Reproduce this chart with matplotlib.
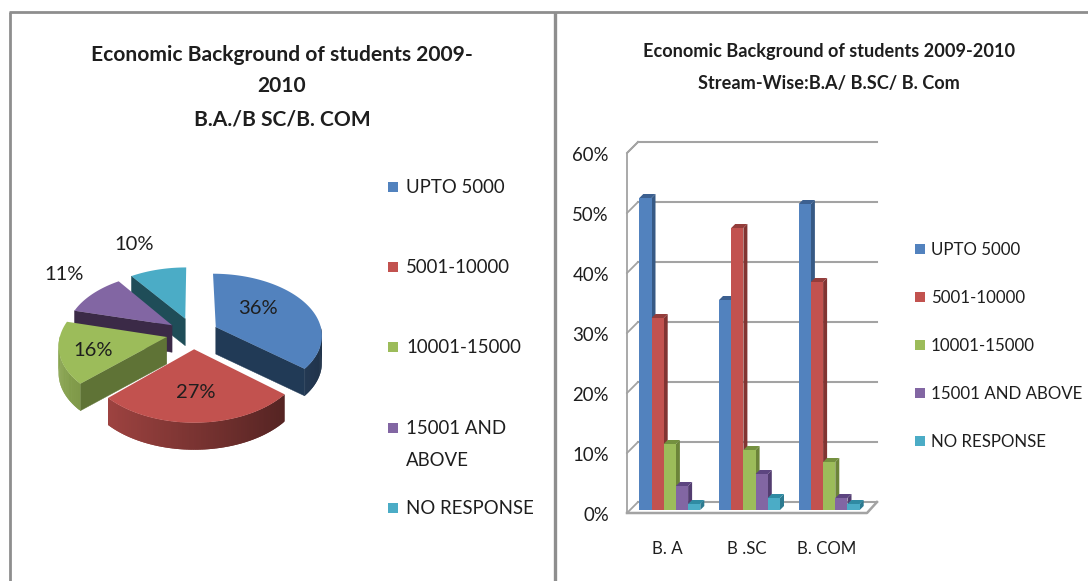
import numpy as np
import matplotlib
matplotlib.use("Agg")
import matplotlib.pyplot as plt
from matplotlib.patches import Polygon, Rectangle
from matplotlib.transforms import ScaledTranslation

# ---- data ----
legend_labels = ["UPTO 5000", "5001-10000", "10001-15000", "15001 AND\nABOVE", "NO RESPONSE"]
bar_legend_labels = ["UPTO 5000", "5001-10000", "10001-15000", "15001 AND ABOVE", "NO RESPONSE"]
pie_values = [36, 27, 16, 11, 10]
pie_labels = ["36%", "27%", "16%", "11%", "10%"]
streams = ["B. A", "B .SC", "B. COM"]
upto_5000 = [52, 35, 51]
r_5001_10000 = [32, 47, 38]
r_10001_15000 = [11, 10, 8]
r_15001_above = [4, 6, 2]
no_response = [1, 2, 1]
y_ticks = [0, 10, 20, 30, 40, 50, 60]
title_left = ["Economic Background of students 2009-", "2010", "B.A./B SC/B. COM"]
title_right = ["Economic Background of students 2009-2010", "Stream-Wise:B.A/ B.SC/ B. Com"]

# ---- style ----
W, H = 1088, 581
FONT = "Lato"
plt.rcParams["font.family"] = [FONT, "DejaVu Sans"]
colors = ["#5282BE", "#C2524F", "#9CBC5A", "#8266A3", "#4BACC6"]
top_dark = ["#3C6090", "#943D3B", "#74903F", "#5D4580", "#2F8BA3"]
side_dark = ["#375A85", "#813432", "#6C8439", "#533D70", "#2C7A90"]
radial_dark = ["#213A56", "#5A2422", "#5F7336", "#3B2A47", "#1F4D58"]
GRID = "#A3A3A3"
TXT = "#1E1E1E"

fig = plt.figure(figsize=(W / 100, H / 100), dpi=100, facecolor="white")

# canvas in pixel coordinates for the panel frame, texts and the pie
cv = fig.add_axes([0, 0, 1, 1])
cv.set_xlim(0, W)
cv.set_ylim(H, 0)
cv.axis("off")

# panel frame
for xs, ys, lw in [((9.5, 9.5), (12, H), 2.0), ((9, W), (12, 12), 2.0), ((555, 555), (12, H), 2.4)]:
    cv.plot(xs, ys, color="#8E8E8E", lw=lw, solid_capstyle="butt", zorder=1)

# titles
for line, y in zip(title_left, [55, 86, 120]):
    cv.text(282, y, line, ha="center", va="center", fontsize=15.1, fontweight="bold", color=TXT)
for line, y in zip(title_right, [52, 84]):
    cv.text(829, y, line, ha="center", va="center", fontsize=13.1, fontweight="bold", color=TXT)

# ---- exploded 3D pie ----
CX, CY, RX, RY, PERSP, DEPTH = 193, 332, 106, 62, 0.12, 27
explode = [(0.217, -0.08), (0.01, 0.27), (-0.245, 0.08), (-0.20, -0.11), (-0.075, -0.22)]


def proj(u, v, drop=0.0):
    s = 1 + PERSP * v
    return CX + RX * u * s, CY + RY * v * s + drop


def shade(col, f):
    c = np.array(matplotlib.colors.to_rgb(col))
    return tuple(c * f)


total = sum(pie_values)
edges = np.cumsum([0] + pie_values) / total * 2 * np.pi
order = [4, 3, 0, 2, 1]
for i in order:
    a, b = edges[i], edges[i + 1]
    ex, ey = explode[i]
    th = np.linspace(a, b, 90)
    us, vs = ex + np.sin(th), ey - np.cos(th)
    z = 3 + order.index(i)
    # radial faces that look toward the viewer
    for ang, flag in ((a, np.sin(a) < -1e-6), (b, np.sin(b) > 1e-6)):
        if flag:
            p0 = proj(ex, ey)
            p1 = proj(ex + np.sin(ang), ey - np.cos(ang))
            q1 = proj(ex + np.sin(ang), ey - np.cos(ang), DEPTH)
            q0 = proj(ex, ey, DEPTH)
            cv.add_patch(Polygon([p0, p1, q1, q0], closed=True, fc=radial_dark[i], ec=radial_dark[i], lw=0.3, zorder=z))
    # outer rim as shaded strips, each overlapping its neighbour
    for k in range(len(th) - 1):
        if np.cos(th[k]) > 0.0 and np.cos(th[k + 1]) > 0.0:
            continue
        f = 0.63 - 0.25 * np.sin(0.5 * (th[k] + th[k + 1]))
        k2 = min(k + 2, len(th) - 1)
        pts = [proj(us[k], vs[k]), proj(us[k2], vs[k2]),
               proj(us[k2], vs[k2], DEPTH), proj(us[k], vs[k], DEPTH)]
        col = shade(colors[i], f)
        cv.add_patch(Polygon(pts, closed=True, fc=col, ec="none", zorder=z + k * 0.001))
    # top face
    pts = [proj(ex, ey)] + [proj(u, v) for u, v in zip(us, vs)]
    cv.add_patch(Polygon(pts, closed=True, fc=colors[i], ec="none", zorder=z + 0.5))

PIE_FS = 14.5
for t, (x, y) in zip(pie_labels, [(258, 309), (196, 393), (93, 350), (64, 275), (134, 244)]):
    cv.text(x, y, t, ha="center", va="center", fontsize=PIE_FS, color=TXT, zorder=20)

# legends
LEG_FS = 13.4
BAR_FS = 12.2
for lab, c, y in zip(legend_labels, colors, [187, 267, 347, 428, 508]):
    cv.add_patch(Rectangle((388, y - 5), 10, 10, fc=c, ec="none", zorder=5))
    cv.text(406, y + 0.5, lab.split("\n")[0], ha="left", va="center", fontsize=LEG_FS, color=TXT)
    if "\n" in lab:
        cv.text(406, y + 32.5, lab.split("\n")[1], ha="left", va="center", fontsize=LEG_FS, color=TXT)
for lab, c, y in zip(bar_legend_labels, colors, [249, 297, 345, 393, 441]):
    cv.add_patch(Rectangle((915, y - 5), 10, 10, fc=c, ec="none", zorder=5))
    cv.text(931, y + 1, lab, ha="left", va="center", fontsize=BAR_FS, color=TXT)

# ---- 3D clustered columns ----
PX_LEFT, PX_RIGHT, PX_ZERO, PX_PER_UNIT, PX_STEP, PX_CENTER0 = 627, 877, 510, 6.0, 79.7, 669.8
PX_TOP = PX_ZERO - 60 * PX_PER_UNIT
ax = fig.add_axes([PX_LEFT / W, 1 - PX_ZERO / H, (PX_RIGHT - PX_LEFT) / W, (PX_ZERO - PX_TOP) / H])
ax.patch.set_alpha(0)
ax.set_xlim((PX_LEFT - PX_CENTER0) / PX_STEP, (PX_RIGHT - PX_CENTER0) / PX_STEP)
ax.set_ylim(0, 60)
for s in ax.spines.values():
    s.set_visible(False)

# px -> data helpers for the depth effect
dxu, dyu = 1 / PX_STEP, 1 / PX_PER_UNIT
back_dx, back_dy = 11 * dxu, 8 * dyu
front_dx, front_dy = 0, -3 * dyu
x_front0, x_front1 = ax.get_xlim()[0], ax.get_xlim()[0] + 240 * dxu
x_back0, x_back1 = x_front0 + back_dx, ax.get_xlim()[1]

for t in y_ticks:
    ax.plot([x_back0, x_back1], [t + back_dy, t + back_dy], color=GRID, lw=1.5, zorder=1, clip_on=False)
    ax.plot([x_front0, x_back0], [t + front_dy, t + back_dy], color=GRID, lw=1.3, zorder=1, clip_on=False)
ax.plot([x_back0, x_front0, x_front0], [60 + back_dy, 60 + front_dy, front_dy], color=GRID, lw=1.3, zorder=1, clip_on=False)
ax.plot([x_front0, x_front1, x_back1], [front_dy, front_dy, back_dy], color=GRID, lw=1.8, zorder=1, clip_on=False)

series = [upto_5000, r_5001_10000, r_10001_15000, r_15001_above, no_response]
bw = 12.2 * dxu
dep_x, dep_y = 4 * dxu, 4 * dyu
for j in range(len(streams)):
    for i, vals in enumerate(series):
        x = j + (i - 2) * bw
        v = vals[j]
        zo = 3 + i
        ax.bar(x, v, bw, color=colors[i], zorder=zo + 0.5, lw=0)
        r = x + bw / 2
        l = x - bw / 2
        ax.add_patch(Polygon([(r, 0), (r + dep_x, dep_y), (r + dep_x, v + dep_y), (r, v)], closed=True,
                             fc=side_dark[i], ec="none", zorder=zo, clip_on=False))
        ax.add_patch(Polygon([(l, v), (l + dep_x, v + dep_y), (r + dep_x, v + dep_y), (r, v)], closed=True,
                             fc=top_dark[i], ec="none", zorder=zo, clip_on=False))

ax.set_yticks(y_ticks)
ax.set_yticklabels([f"{t}%" for t in y_ticks], fontsize=LEG_FS, color=TXT)
ax.set_xticks(range(len(streams)))
ax.set_xticklabels(streams, fontsize=BAR_FS, color=TXT)
ax.tick_params(axis="y", length=0, pad=13)
ax.tick_params(axis="x", length=0, pad=22)
ydown = ScaledTranslation(0, -3 / 72, fig.dpi_scale_trans)
xleft = ScaledTranslation(-2 / 72, 0, fig.dpi_scale_trans)
for lb in ax.get_yticklabels():
    lb.set_transform(lb.get_transform() + ydown)
for lb in ax.get_xticklabels():
    lb.set_transform(lb.get_transform() + xleft)

fig.savefig("out.png", dpi=100, facecolor="white")
